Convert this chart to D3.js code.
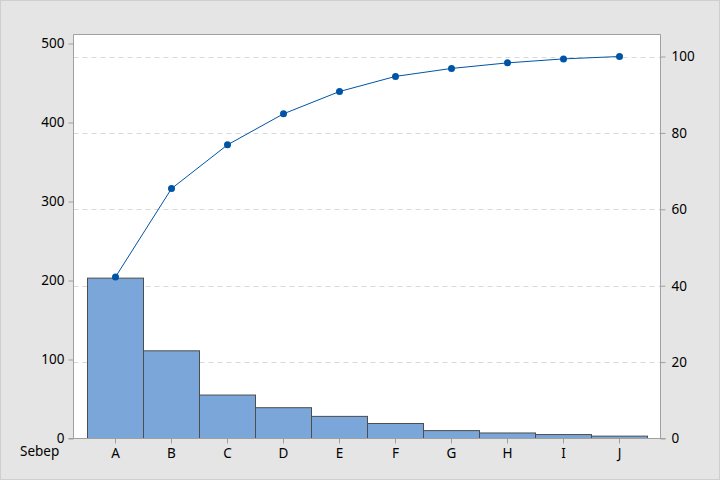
<!DOCTYPE html>
<html><head><meta charset="utf-8">
<script src="https://cdn.jsdelivr.net/npm/d3@7"></script>
<style>body{margin:0;background:#e5e5e5;} svg{display:block;}</style>
</head><body><svg id="c" width="720" height="480"></svg>
<script>
const categories = ["A","B","C","D","E","F","G","H","I","J"];
const counts = [203,111,55,39,28,19,10,7,5,3];
const leftTicks = [0,100,200,300,400,500];
const rightTicks = [0,20,40,60,80,100];
const xTitle = "Sebep";

const total = d3.sum(counts);
let acc = 0;
const cumPct = counts.map(v => (acc += v) / total * 100);

const svg = d3.select("#c");
const font = "'Noto Sans', 'Open Sans', sans-serif";
const plot = {l:73.5, r:660.5, t:34.5, b:438.5};

svg.append("rect").attr("x",0.5).attr("y",0.5).attr("width",719).attr("height",479)
  .attr("fill","#e5e5e5").attr("stroke","#cfcfcf");
svg.append("rect").attr("x",plot.l).attr("y",plot.t).attr("width",plot.r-plot.l).attr("height",plot.b-plot.t)
  .attr("fill","#ffffff");

const x = d3.scaleBand().domain(categories).range([87.5, 647.5]).padding(0);
const yL = d3.scaleLinear().domain([0, 500]).range([plot.b, 43.5]);
const yR = d3.scaleLinear().domain([0, 100]).range([plot.b, 56.5]);

// gridlines (at right axis ticks)
svg.append("g").selectAll("line").data(rightTicks.filter(d=>d>0)).join("line")
  .attr("x1",plot.l).attr("x2",plot.r)
  .attr("y1",d=>Math.round(yR(d))+0.5).attr("y2",d=>Math.round(yR(d))+0.5)
  .attr("stroke","#d9d9d9").attr("stroke-dasharray","5,4");

// bars
svg.append("g").selectAll("rect").data(categories).join("rect")
  .attr("x",d=>x(d)).attr("width",x.bandwidth())
  .attr("y",(d,i)=>yL(counts[i])).attr("height",(d,i)=>plot.b-yL(counts[i]))
  .attr("fill","#7ba6d9").attr("stroke","#4d4d4d").attr("stroke-width",1);

// plot border
svg.append("path").attr("d",`M${plot.l},${plot.b}V${plot.t}H${plot.r}V${plot.b}`)
  .attr("fill","none").attr("stroke","#a0a0a0");

// axes
const axL = svg.append("g").attr("transform",`translate(${plot.l},0)`)
  .call(d3.axisLeft(yL).tickValues(leftTicks).tickSize(5).tickPadding(4));
const axR = svg.append("g").attr("transform",`translate(${plot.r},0)`)
  .call(d3.axisRight(yR).tickValues(rightTicks).tickSize(5).tickPadding(6));
const axB = svg.append("g").attr("transform",`translate(0,${plot.b})`)
  .call(d3.axisBottom(x).tickSize(5).tickPadding(5));
[axL,axR,axB].forEach(g=>{
  g.select(".domain").remove();
  g.selectAll("line").attr("stroke","#a0a0a0");
  g.selectAll("text").attr("fill","#000").style("font-family",font).style("font-size","13.5px");
});
svg.append("line").attr("x1",plot.l-5).attr("x2",plot.r+5).attr("y1",plot.b).attr("y2",plot.b)
  .attr("stroke","#a0a0a0");

svg.append("text").attr("x",20).attr("y",456).text(xTitle)
  .attr("fill","#000").style("font-family",font).style("font-size","13.5px");

// cumulative line
const cx = (d,i)=>x(categories[i])+x.bandwidth()/2;
svg.append("path").datum(cumPct)
  .attr("d", d3.line().x(cx).y(d=>yR(d)))
  .attr("fill","none").attr("stroke","#0054a6").attr("stroke-width",1);
svg.append("g").selectAll("circle").data(cumPct).join("circle")
  .attr("cx",cx).attr("cy",d=>yR(d)).attr("r",3.5).attr("fill","#0054a6");
</script></body></html>
